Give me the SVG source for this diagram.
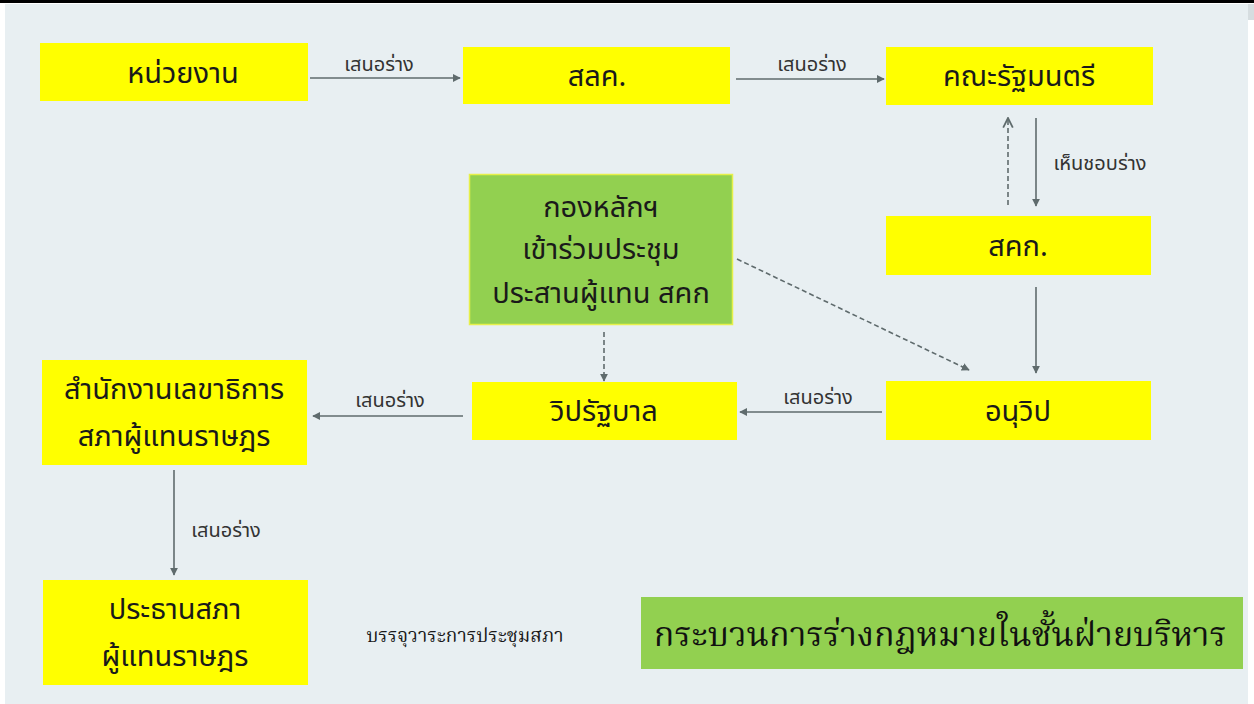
<svg xmlns="http://www.w3.org/2000/svg" width="1254" height="704" viewBox="0 0 1254 704">
<defs>
<style>
.bg{fill:#e8eff2}
.y{fill:#ffff00}
.g{fill:#92d050}
.t{font-family:"Noto Sans Thai","Noto Sans","DejaVu Sans",sans-serif;font-size:29px;fill:#1a1a1a;text-anchor:middle}
.l{font-family:"Noto Sans Thai","Noto Sans","DejaVu Sans",sans-serif;font-size:20px;fill:#333;text-anchor:middle}
.s{font-family:"Noto Serif Thai","Liberation Serif",serif;font-size:19px;fill:#1a1a1a;text-anchor:middle}
.ti{font-family:"Noto Serif Thai","Liberation Serif",serif;font-size:34px;fill:#111;text-anchor:middle}
.c{stroke:#5f6b6d;stroke-width:1.6;fill:none}
.d{stroke-dasharray:5,3}
</style>
<marker id="ah" viewBox="0 0 10 10" refX="9" refY="5" markerWidth="8" markerHeight="8" markerUnits="userSpaceOnUse" orient="auto">
<path d="M0,0 L10,5 L0,10 z" fill="#5f6b6d"/>
</marker>
<marker id="oh" viewBox="0 0 10 10" refX="9" refY="5" markerWidth="12" markerHeight="12" markerUnits="userSpaceOnUse" orient="auto">
<path d="M1,1 L9,5 L1,9" fill="none" stroke="#5f6b6d" stroke-width="1.5"/>
</marker>
</defs>
<rect x="0" y="0" width="1254" height="704" fill="#ffffff"/>
<rect class="bg" x="5" y="4" width="1243" height="700"/>
<rect x="1248" y="4" width="6" height="16" fill="#d6dde0"/>
<rect x="0" y="0" width="1254" height="3" fill="#000"/>

<g id="connectors">
<line class="c" x1="310" y1="78" x2="460" y2="78" marker-end="url(#ah)"/>
<text class="l" x="379" y="71">เสนอร่าง</text>
<line class="c" x1="736" y1="79" x2="884" y2="79" marker-end="url(#ah)"/>
<text class="l" x="812" y="71">เสนอร่าง</text>
<line class="c" x1="1036" y1="118" x2="1036" y2="206" marker-end="url(#ah)"/>
<text class="l" x="1100" y="170">เห็นชอบร่าง</text>
<line class="c d" x1="1008" y1="205" x2="1008" y2="118" marker-end="url(#oh)"/>
<line class="c" x1="1036" y1="287" x2="1036" y2="373" marker-end="url(#ah)"/>
<line class="c d" x1="737" y1="259" x2="969" y2="370" marker-end="url(#ah)"/>
<line class="c d" x1="604" y1="332" x2="604" y2="381" marker-end="url(#ah)"/>
<line class="c" x1="882" y1="412" x2="740" y2="412" marker-end="url(#ah)"/>
<text class="l" x="818" y="404">เสนอร่าง</text>
<line class="c" x1="463" y1="416" x2="313" y2="416" marker-end="url(#ah)"/>
<text class="l" x="390" y="407">เสนอร่าง</text>
<line class="c" x1="174" y1="470" x2="174" y2="575" marker-end="url(#ah)"/>
<text class="l" x="226" y="537">เสนอร่าง</text>
</g>

<g id="n-agency">
<rect class="y" x="40" y="43" width="268" height="58"/>
<text class="t" x="183" y="83">หน่วยงาน</text>
</g>
<g id="n-soc">
<rect class="y" x="463" y="47" width="267" height="57"/>
<text class="t" x="597" y="86">สลค.</text>
</g>
<g id="n-cabinet">
<rect class="y" x="886" y="47" width="267" height="58"/>
<text class="t" x="1019" y="86">คณะรัฐมนตรี</text>
</g>
<g id="n-ocs">
<rect class="y" x="886" y="216" width="265" height="59"/>
<text class="t" x="1018" y="256">สคก.</text>
</g>
<g id="n-coord">
<rect class="g" x="469.5" y="174.5" width="263" height="150" stroke="#e6f04a" stroke-width="1.5"/>
<text class="t" x="601" y="217">กองหลักฯ</text>
<text class="t" x="601" y="259">เข้าร่วมประชุม</text>
<text class="t" x="601" y="303">ประสานผู้แทน สคก</text>
</g>
<g id="n-whip">
<rect class="y" x="472" y="382" width="265" height="58"/>
<text class="t" x="604" y="421">วิปรัฐบาล</text>
</g>
<g id="n-subwhip">
<rect class="y" x="886" y="381" width="265" height="59"/>
<text class="t" x="1018" y="421">อนุวิป</text>
</g>
<g id="n-secretariat">
<rect class="y" x="42" y="360" width="265" height="105"/>
<text class="t" x="174" y="399">สำนักงานเลขาธิการ</text>
<text class="t" x="174" y="446">สภาผู้แทนราษฎร</text>
</g>
<g id="n-speaker">
<rect class="y" x="43" y="580" width="265" height="105"/>
<text class="t" x="175" y="619">ประธานสภา</text>
<text class="t" x="175" y="666">ผู้แทนราษฎร</text>
</g>
<g id="note">
<text class="s" x="465" y="642">บรรจุวาระการประชุมสภา</text>
</g>
<g id="title">
<rect class="g" x="641" y="597" width="602" height="72"/>
<text class="ti" x="940" y="646">กระบวนการร่างกฎหมายในชั้นฝ่ายบริหาร</text>
</g>
</svg>
